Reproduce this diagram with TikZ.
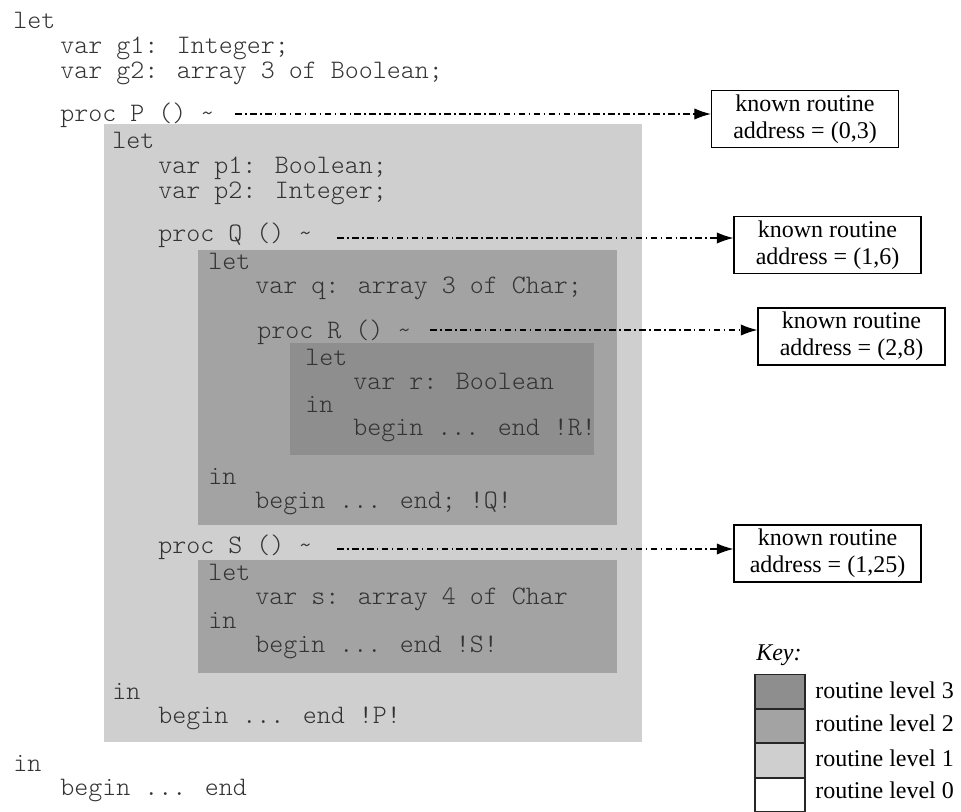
\documentclass[tikz,border=0pt]{standalone}
\usepackage{fontspec}
\setmainfont{Liberation Serif}
\newfontfamily\codefont{lmmonolt10-regular.otf}
\usetikzlibrary{arrows.meta}
\definecolor{lvone}{HTML}{CFCFCF}
\definecolor{lvtwo}{HTML}{A3A3A3}
\definecolor{lvthree}{HTML}{8E8E8E}
\definecolor{codeink}{HTML}{333333}
\tikzset{
  code/.style={anchor=base west, inner sep=0pt, text=codeink, font=\codefont\fontsize{20}{22}\selectfont},
  refbox/.style={draw=black, line width=1.1pt, fill=white, minimum width=140pt, minimum height=43pt, inner sep=0pt, align=center, font=\fontsize{18}{20}\selectfont},
  link/.style={line width=0.9pt, dash pattern=on 5pt off 2.5pt on 1.2pt off 2.5pt, -{Latex[length=12.5pt,width=8.5pt]}},
  keysq/.style={draw=black!85, line width=1.1pt, minimum width=37.5pt, minimum height=25.5pt, inner sep=0pt},
  keylbl/.style={anchor=west, inner sep=0pt, font=\fontsize{18}{20}\selectfont},
}
\begin{document}
\begin{tikzpicture}[x=0.75pt,y=-0.75pt]
\useasboundingbox (0,0) rectangle (961,811);
% shaded routine regions
\fill[lvone] (104,124) rectangle (642,742);
\fill[lvtwo] (198,250) rectangle (617,525);
\fill[lvthree] (290,343) rectangle (594,455);
\fill[lvtwo] (198,560) rectangle (617,673);

% code text
\node[code] (t1) at (13,28) {let};
\node[code] (t2) at (60,53) {var g1: Integer;};
\node[code] (t3) at (60,78) {var g2: array 3 of Boolean;};
\node[code] (t4) at (60,121) {proc P () \textasciitilde};
\node[code] (t5) at (112,148) {let};
\node[code] (t6) at (158,173) {var p1: Boolean;};
\node[code] (t7) at (158,198) {var p2: Integer;};
\node[code] (t8) at (158,241) {proc Q () \textasciitilde};
\node[code] (t9) at (208,269) {let};
\node[code] (t10) at (255,293) {var q: array 3 of Char;};
\node[code] (t11) at (257,338) {proc R () \textasciitilde};
\node[code] (t12) at (305,365) {let};
\node[code] (t13) at (353,389) {var r: Boolean};
\node[code] (t14) at (305,412) {in};
\node[code] (t15) at (353,435) {begin ... end !R!};
\node[code] (t16) at (208,484) {in};
\node[code] (t17) at (255,508) {begin ... end; !Q!};
\node[code] (t18) at (158,553) {proc S () \textasciitilde};
\node[code] (t19) at (208,580) {let};
\node[code] (t20) at (255,604) {var s: array 4 of Char};
\node[code] (t21) at (208,628) {in};
\node[code] (t22) at (255,652) {begin ... end !S!};
\node[code] (t23) at (112,699) {in};
\node[code] (t24) at (158,723) {begin ... end !P!};
\node[code] (t25) at (13,771) {in};
\node[code] (t26) at (60,795) {begin ... end};

% address boxes
\node[refbox] (b1) at (805,119) {known routine\\address = (0,3)};
\node[refbox] (b2) at (827.5,245) {known routine\\address = (1,6)};
\node[refbox] (b3) at (851.5,336.5) {known routine\\address = (2,8)};
\node[refbox] (b4) at (827.5,553.5) {known routine\\address = (1,25)};

% connectors
\coordinate (s1) at (235,114);
\coordinate (s2) at (337,238);
\coordinate (s3) at (430,330);
\coordinate (s4) at (337,549);
\draw[link] (s1) -- (s1 -| b1.west);
\draw[link] (s2) -- (s2 -| b2.west);
\draw[link] (s3) -- (s3 -| b3.west);
\draw[link] (s4) -- (s4 -| b4.west);

% key
\node[anchor=west, inner sep=0pt, font=\itshape\fontsize{18}{20}\selectfont] (key) at (756,655) {Key:};
\node[keysq, fill=lvthree] (k3) at (780,691.5) {};
\node[keysq, fill=lvtwo] (k2) at (780,726) {};
\node[keysq, fill=lvone] (k1) at (780,760.5) {};
\node[keysq, fill=white] (k0) at (780,795) {};
\node[keylbl] (l3) at (815,690) {routine level 3};
\node[keylbl] (l2) at (815,723) {routine level 2};
\node[keylbl] (l1) at (815,758) {routine level 1};
\node[keylbl] (l0) at (815,790) {routine level 0};
\end{tikzpicture}
\end{document}
